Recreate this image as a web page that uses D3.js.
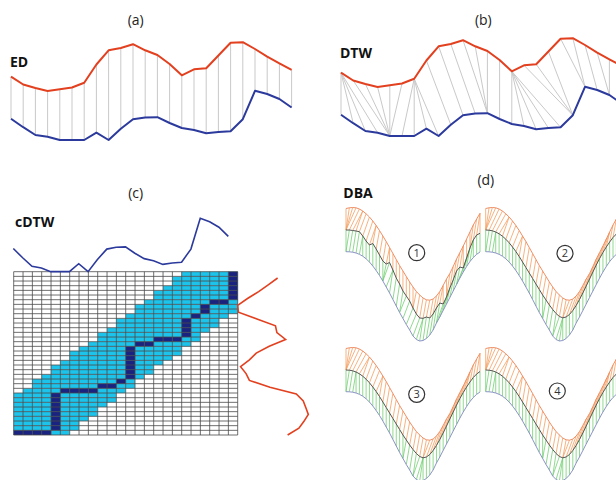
<!DOCTYPE html>
<html>
<head>
<meta charset="utf-8">
<script src="https://cdn.jsdelivr.net/npm/d3@7"></script>
<style>
  body { margin: 0; background: #fff; }
  svg { display: block; }
</style>
</head>
<body>
<svg id="fig" width="616" height="480"></svg>
<script>
// ---- two example time series (24 samples each) ----
const redSeries  = [7.33, 6.55, 6.2, 5.9, 6.07, 6.25, 6.73, 8.55, 9.97, 10.2, 10.58, 9.97,
                    9.5, 8.6, 7.47, 8.07, 8.17, 9.45, 10.73, 10.78, 10.1, 9.33, 8.67, 8.02];
const blueSeries = [3.13, 2.28, 1.5, 1.33, 1.0, 1.0, 1.0, 1.73, 1.0, 2.12, 3.08, 3.25,
                    3.28, 2.7, 2.2, 2.0, 1.67, 1.8, 1.87, 3.08, 5.92, 5.6, 5.1, 4.25];

// DTW alignment between the red (first) and blue (second) series
const dtwPairs = [[0,0],[0,1],[0,2],[0,3],[1,4],[2,4],[3,4],[4,4],[5,4],[6,5],[6,6],[6,7],
                  [6,8],[7,9],[8,10],[9,11],[10,12],[11,12],[12,12],[13,13],[14,14],[14,15],
                  [14,16],[14,17],[14,18],[15,19],[16,19],[17,19],[18,20],[19,20],[20,21],
                  [21,22],[22,22],[23,23]];

// ---- constrained DTW cost matrix ----
const gridCols = 24, gridRows = 35;
// Sakoe-Chiba band: first / last column inside the window for each row (bottom row first)
const bandLo = [0,0,0,0,0,0,0,0,0,1,2,2,3,4,4,5,6,6,7,8,9,9,10,11,11,12,13,13,14,15,15,16,17,17,18];
const bandHi = [5,6,6,7,8,8,9,10,10,11,12,12,13,14,14,15,16,17,17,18,19,19,20,21,21,22,23,23,23,23,23,23,23,23,23];
// warping path cells as [column, row]
const warpPath = [[0,0],[1,0],[2,0],[3,0],[4,1],[4,2],[4,3],[4,4],[4,5],[4,6],[4,7],[4,8],
                  [5,9],[6,9],[7,9],[8,9],[9,10],[10,10],[11,11],[12,12],[12,13],[12,14],
                  [12,15],[12,16],[12,17],[12,18],[13,19],[14,19],[15,20],[16,20],[17,20],
                  [18,21],[18,22],[18,23],[18,24],[19,25],[20,26],[20,27],[21,28],[22,28],
                  [23,29],[23,30],[23,31],[23,32],[23,33],[23,34]];

// ---- DBA: sequences to average and the successive averages (41 samples) ----
const dbaOrange = [5.15,5.22,5.25,5.22,5.1,4.9,4.62,4.3,3.9,3.45,2.95,2.4,1.85,1.25,0.65,0.05,
                   -0.55,-1.1,-1.65,-2.2,-2.7,-3.15,-3.5,-3.8,-3.98,-4.02,-3.9,-3.6,-3.15,-2.55,
                   -1.9,-1.35,-0.65,0.1,0.75,1.4,2.1,2.8,3.5,4.1,4.67];
const dbaBlue   = [0.83,0.82,0.78,0.7,0.57,0.38,0.12,-0.2,-0.6,-1.05,-1.55,-2.1,-2.7,-3.3,-3.95,
                   -4.6,-5.25,-5.85,-6.45,-7.0,-7.6,-7.95,-8.1,-8.05,-7.85,-7.5,-7.0,-6.3,-5.7,
                   -5.05,-4.4,-3.75,-3.1,-2.45,-1.8,-1.2,-0.65,-0.15,0.25,0.57,0.8];
const dbaAvgFirst = [3.0,3.0,2.95,2.9,2.83,2.4,1.9,1.5,1.65,1.1,0.5,-0.1,-0.4,-0.25,-1.0,-1.8,
                     -2.4,-3.1,-3.6,-4.1,-4.8,-5.4,-5.8,-5.83,-5.7,-5.8,-5.4,-4.8,-4.3,-4.4,
                     -3.7,-2.8,-2.0,-1.1,-0.7,-0.8,0.2,1.2,2.0,2.5,2.67];
const dbaAvgLater = [3.0,2.98,2.92,2.8,2.62,2.38,2.08,1.72,1.3,0.85,0.35,-0.2,-0.75,-1.3,-1.85,
                     -2.4,-2.95,-3.5,-4.0,-4.5,-4.95,-5.35,-5.65,-5.78,-5.7,-5.45,-5.05,-4.55,
                     -3.95,-3.3,-2.6,-1.9,-1.2,-0.5,0.15,0.75,1.3,1.8,2.25,2.6,2.85];
const dbaIterations = ["1", "2", "3", "4"];

const panelTags = ["(a)", "(b)", "(c)", "(d)"];
const methodNames = ["ED", "DTW", "cDTW", "DBA"];

const colors = {
  red: "#e2401f", blue: "#2b3a9c", link: "#c9c9c9",
  band: "#1cc3ea", path: "#1a237f", grid: "#4a4a4a",
  orange: "#ee8f66", orangeLink: "#f4a061", green: "#74cf74", avg: "#555", lav: "#8d93c9"
};

const svg = d3.select("#fig");
const font = "'Open Sans', 'DejaVu Sans', sans-serif";

// ---------- (a) ED and (b) DTW ----------
const xs = d3.scaleLinear().domain([0, 23]).range([11, 291.6]);
const ys = d3.scaleLinear().domain([0, 11]).range([150, 40]);
const seriesLine = d3.line().x((d, i) => xs(i)).y(d => ys(d));

function pairPanel(g, pairs) {
  g.append("g").selectAll("line").data(pairs).join("line")
    .attr("x1", d => xs(d[0])).attr("y1", d => ys(redSeries[d[0]]))
    .attr("x2", d => xs(d[1])).attr("y2", d => ys(blueSeries[d[1]]))
    .attr("stroke", colors.link).attr("stroke-width", 1);
  g.append("path").datum(redSeries).attr("d", seriesLine)
    .attr("fill", "none").attr("stroke", colors.red).attr("stroke-width", 2).attr("stroke-linejoin", "round");
  g.append("path").datum(blueSeries).attr("d", seriesLine)
    .attr("fill", "none").attr("stroke", colors.blue).attr("stroke-width", 2).attr("stroke-linejoin", "round");
}

const gA = svg.append("g");
pairPanel(gA, redSeries.map((d, i) => [i, i]));
const gB = svg.append("g").attr("transform", "translate(330,-4)");
pairPanel(gB, dtwPairs);

// ---------- (c) cDTW ----------
const gx = d3.scaleLinear().domain([0, gridCols]).range([13.7, 237.7]);
const gy = d3.scaleLinear().domain([0, gridRows]).range([435, 271.7]);
const gC = svg.append("g");

const cells = [];
for (let r = 0; r < gridRows; r++)
  for (let c = 0; c < gridCols; c++)
    cells.push({c, r, inBand: c >= bandLo[r] && c <= bandHi[r]});
gC.append("g").selectAll("rect").data(cells).join("rect")
  .attr("x", d => gx(d.c)).attr("y", d => gy(d.r + 1))
  .attr("width", d => gx(d.c + 1) - gx(d.c)).attr("height", d => gy(d.r) - gy(d.r + 1))
  .attr("fill", d => d.inBand ? colors.band : "#fff");
gC.append("g").selectAll("rect").data(warpPath).join("rect")
  .attr("x", d => gx(d[0])).attr("y", d => gy(d[1] + 1))
  .attr("width", d => gx(d[0] + 1) - gx(d[0])).attr("height", d => gy(d[1]) - gy(d[1] + 1))
  .attr("fill", colors.path);
gC.append("g").selectAll("line").data(d3.range(gridCols + 1)).join("line")
  .attr("x1", d => gx(d)).attr("x2", d => gx(d)).attr("y1", gy(0)).attr("y2", gy(gridRows))
  .attr("stroke", colors.grid).attr("stroke-width", 0.8);
gC.append("g").selectAll("line").data(d3.range(gridRows + 1)).join("line")
  .attr("y1", d => gy(d)).attr("y2", d => gy(d)).attr("x1", gx(0)).attr("x2", gx(gridCols))
  .attr("stroke", colors.grid).attr("stroke-width", 0.8);

// series along the two axes of the matrix
const cTopX = d3.scaleLinear().domain([0, 23]).range([13.3, 228.3]);
const cTopY = d3.scaleLinear().domain([0, 11]).range([282.5, 163.2]);
gC.append("path").datum(blueSeries)
  .attr("d", d3.line().x((d, i) => cTopX(i)).y(d => cTopY(d)))
  .attr("fill", "none").attr("stroke", colors.blue).attr("stroke-width", 1.6);
const cSideY = d3.scaleLinear().domain([0, 23]).range([435, 278]);
const cSideX = d3.scaleLinear().domain([0, 11]).range([393.7, 234.5]);
gC.append("path").datum(redSeries)
  .attr("d", d3.line().x(d => cSideX(d)).y((d, i) => cSideY(i)))
  .attr("fill", "none").attr("stroke", colors.red).attr("stroke-width", 1.6);

// ---------- (d) DBA ----------
// classic DTW on mean-centred sequences, returns the warping path as [i, j] pairs
function dtwPath(a, b) {
  const n = a.length, m = b.length, ma = d3.mean(a), mb = d3.mean(b);
  const D = Array.from({length: n}, () => new Array(m).fill(Infinity));
  for (let i = 0; i < n; i++) for (let j = 0; j < m; j++) {
    const cost = Math.abs((a[i] - ma) - (b[j] - mb));
    const prev = (i === 0 && j === 0) ? 0 :
      Math.min(i > 0 ? D[i-1][j] : Infinity, j > 0 ? D[i][j-1] : Infinity,
               i > 0 && j > 0 ? D[i-1][j-1] : Infinity);
    D[i][j] = cost + prev;
  }
  const path = [];
  let i = n - 1, j = m - 1;
  path.push([i, j]);
  while (i > 0 || j > 0) {
    if (i === 0) j--;
    else if (j === 0) i--;
    else {
      const best = Math.min(D[i-1][j-1], D[i-1][j], D[i][j-1]);
      if (best === D[i-1][j-1]) { i--; j--; }
      else if (best === D[i-1][j]) i--;
      else j--;
    }
    path.push([i, j]);
  }
  return path;
}

const dx = d3.scaleLinear().domain([0, dbaOrange.length - 1]).range([346, 480]);
const dy = d3.scaleLinear().domain([-10, 6]).range([360, 200]);
const dLine = d3.line().x((d, i) => dx(i)).y(d => dy(d));
const panelShift = [[0, 0], [139.7, 0], [0, 140], [139.7, 140]];
const badgePos = [[416.7, 252.7], [565, 253.3], [416.7, 394.3], [557.3, 391]];

dbaIterations.forEach((lab, k) => {
  const avg = k === 0 ? dbaAvgFirst : dbaAvgLater;
  const g = svg.append("g").attr("transform", `translate(${panelShift[k][0]},${panelShift[k][1]})`);
  g.append("g").selectAll("line").data(dtwPath(dbaOrange, avg)).join("line")
    .attr("x1", d => dx(d[0])).attr("y1", d => dy(dbaOrange[d[0]]))
    .attr("x2", d => dx(d[1])).attr("y2", d => dy(avg[d[1]]))
    .attr("stroke", colors.orangeLink).attr("stroke-width", 0.8);
  g.append("g").selectAll("line").data(dtwPath(avg, dbaBlue)).join("line")
    .attr("x1", d => dx(d[0])).attr("y1", d => dy(avg[d[0]]))
    .attr("x2", d => dx(d[1])).attr("y2", d => dy(dbaBlue[d[1]]))
    .attr("stroke", colors.green).attr("stroke-width", 0.8);
  g.append("path").datum(dbaOrange).attr("d", dLine).attr("fill", "none")
    .attr("stroke", colors.orange).attr("stroke-width", 1);
  g.append("path").datum(avg).attr("d", dLine).attr("fill", "none")
    .attr("stroke", colors.avg).attr("stroke-width", 1);
  g.append("path").datum(dbaBlue).attr("d", dLine).attr("fill", "none")
    .attr("stroke", colors.lav).attr("stroke-width", 1);

  svg.append("circle").attr("cx", badgePos[k][0]).attr("cy", badgePos[k][1]).attr("r", 8)
    .attr("fill", "#fff").attr("stroke", "#333").attr("stroke-width", 1.2);
  svg.append("text").attr("x", badgePos[k][0]).attr("y", badgePos[k][1] + 4)
    .attr("text-anchor", "middle").attr("font-family", font).attr("font-size", 11)
    .attr("fill", "#333").text(lab);
});

// ---------- titles ----------
const tagPos = [[135.7, 25], [483.3, 25], [135.7, 198], [485.8, 185]];
svg.selectAll("text.tag").data(panelTags).join("text").attr("class", "tag")
  .attr("x", (d, i) => tagPos[i][0]).attr("y", (d, i) => tagPos[i][1])
  .attr("text-anchor", "middle").attr("font-family", font).attr("font-size", 14)
  .attr("fill", "#222").text(d => d);
const namePos = [[10, 67], [340, 58.3], [15, 226.7], [343.3, 198.3]];
svg.selectAll("text.name").data(methodNames).join("text").attr("class", "name")
  .attr("x", (d, i) => namePos[i][0]).attr("y", (d, i) => namePos[i][1])
  .attr("font-family", font).attr("font-size", 14).attr("font-weight", "bold")
  .attr("fill", "#111").text(d => d);
</script>
</body>
</html>
